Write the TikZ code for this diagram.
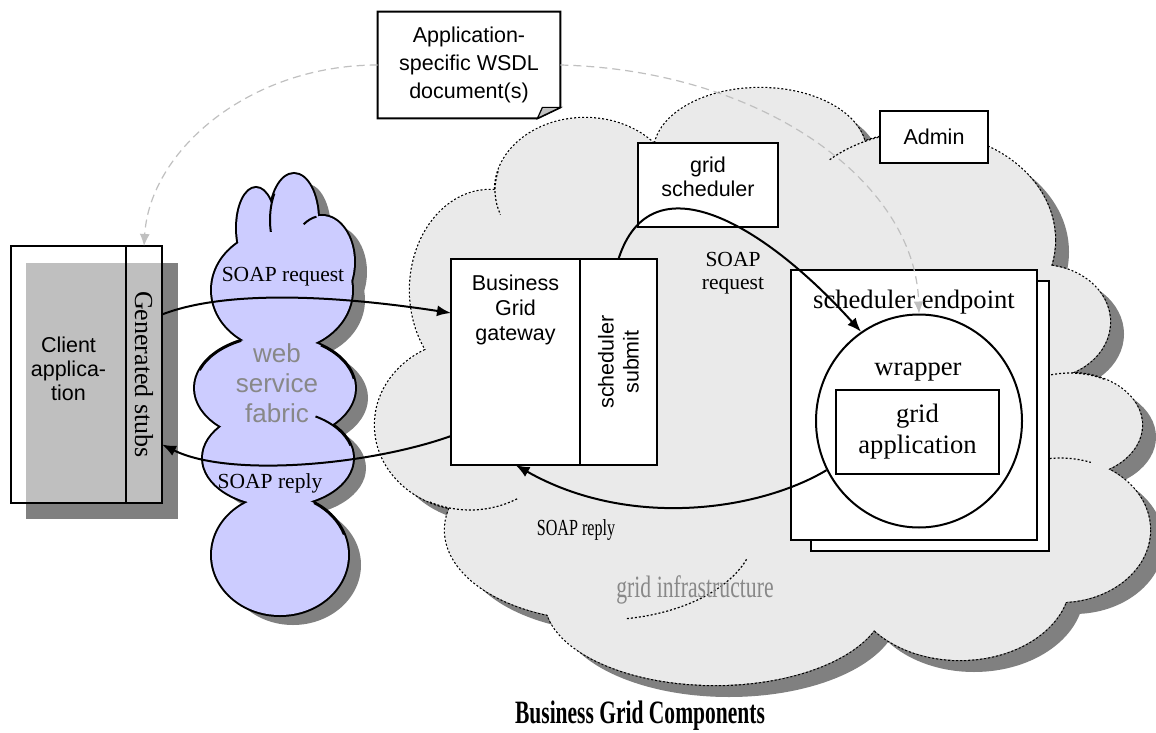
\documentclass[tikz,border=0pt]{standalone}
\usepackage{fontspec}
\setmainfont{Liberation Serif}
\setsansfont{Liberation Sans}
\newfontfamily\narrowserif[FakeStretch=0.7]{Liberation Serif}
\newfontfamily\titleserif[FakeStretch=0.66]{Liberation Serif}
\usetikzlibrary{shapes.geometric,positioning,arrows.meta}

\definecolor{fabricblue}{RGB}{204,204,255}
\definecolor{gridgrey}{RGB}{234,234,234}
\definecolor{shadowgrey}{RGB}{128,128,128}
\definecolor{refgrey}{RGB}{192,192,192}
\definecolor{textgrey}{RGB}{136,136,136}

\newcommand\gridlobes{490/290/80/100, 585/190/90/72, 760/152/106/64,
	920/240/135/108, 1040/322/70/57, 1070/425/72/52, 1060/530/90/72,
	960/580/110/80, 715/600/170/85, 600/530/155/90, 470/425/95/85,
	760/380/300/220}
\newcommand\fabriclobes{256/228/19/40, 294/220/24/46, 322/262/32/46,
	282/290/70/60, 275/388/80/52, 278/458/75/48, 280/555/68/60}

\begin{document}
\begin{tikzpicture}[x=0.5pt, y=-0.5pt,
		box/.style = {draw, line width=1pt, fill=white, inner sep=0pt, outer sep=0pt},
		sans/.style = {font=\sffamily\fontsize{10.75}{12.5}\selectfont, align=center, inner sep=0pt},
		serif/.style = {font=\fontsize{10.75}{11.5}\selectfont, align=center, inner sep=0pt},
		bigserif/.style = {font=\fontsize{13.3}{15.5}\selectfont, align=center, inner sep=0pt},
		msg/.style = {line width=1pt, -{Latex[length=7pt,width=5.5pt]}},
		docref/.style = {refgrey, line width=0.6pt, dash pattern=on 4pt off 2.5pt, -{Latex[length=6pt,width=5pt]}},
		gridedge/.style = {line width=0.6pt, dash pattern=on 1pt off 1pt}]
	\useasboundingbox (0,0) rectangle (1156,733);
	\fill[white] (0,0) rectangle (1156,733);

	\foreach \cx/\cy/\rx/\ry in \gridlobes
		\fill[shadowgrey] (\cx+14,\cy+12) ellipse [x radius=\rx, y radius=\ry];
	\foreach \cx/\cy/\rx/\ry in \gridlobes
		\draw[gridedge, line width=1.2pt] (\cx,\cy) ellipse [x radius=\rx, y radius=\ry];
	\foreach \cx/\cy/\rx/\ry in \gridlobes
		\fill[gridgrey] (\cx,\cy) ellipse [x radius=\rx, y radius=\ry];
	\foreach \cx/\cy/\rx/\ry/\a/\b in {585/190/90/72/195/160, 470/425/95/85/115/60,
			920/240/135/108/228/255, 1070/425/72/52/245/300, 1060/530/90/72/240/290,
			600/530/155/90/80/18}
		\draw[gridedge] ({\cx+\rx*cos(\a)},{\cy+\ry*sin(\a)}) arc [start angle=\a, end angle=\b, x radius=\rx, y radius=\ry];

	\foreach \cx/\cy/\rx/\ry in \fabriclobes
		\fill[shadowgrey] (\cx+13,\cy+10) ellipse [x radius=\rx, y radius=\ry];
	\foreach \cx/\cy/\rx/\ry in \fabriclobes
		\draw[line width=2pt] (\cx,\cy) ellipse [x radius=\rx, y radius=\ry];
	\foreach \cx/\cy/\rx/\ry in \fabriclobes
		\fill[fabricblue] (\cx,\cy) ellipse [x radius=\rx, y radius=\ry];
	\foreach \cx/\cy/\rx/\ry/\a/\b in {294/220/24/46/215/165, 322/262/32/46/235/260,
			275/388/80/52/200/245, 275/388/80/52/-10/-55, 278/458/75/48/-15/-60, 280/555/68/60/-20/-60}
		\draw[line width=1pt] ({\cx+\rx*cos(\a)},{\cy+\ry*sin(\a)}) arc [start angle=\a, end angle=\b, x radius=\rx, y radius=\ry];
	\node[sans, font=\sffamily\fontsize{13}{15}\selectfont, text=textgrey] (fabric) at (277,383) {web\\service\\fabric};

	\node[sans, font=\sffamily\fontsize{10.75}{14}\selectfont, minimum width=91pt, minimum height=53pt] (wsdl) at (469,65) {Application-\\specific WSDL\\document(s)};
	\draw[line width=1pt] (wsdl.north west) -- (wsdl.north east) -- ([yshift=5.5pt]wsdl.south east)
		-- ([xshift=-11.5pt]wsdl.south east) -- (wsdl.south west) -- cycle;
	\filldraw[fill=refgrey, line width=0.6pt] ([xshift=-11.5pt]wsdl.south east) -- ([xshift=-9pt,yshift=5.5pt]wsdl.south east)
		-- ([yshift=5.5pt]wsdl.south east) -- cycle;

	\fill[shadowgrey] (26,263) rectangle (178,519);
	\node[box, fill opacity=0.5, text opacity=1, minimum width=57.5pt, minimum height=128.5pt] (app) at (68.5,374.5) {};
	\node[box, fill opacity=0.5, text opacity=1, minimum width=18pt, minimum height=128.5pt, right=0pt of app] (stubs) {};
	\node[sans, font=\sffamily\fontsize{10.75}{12}\selectfont] (apptxt) at ([yshift=3pt]app.center) {Client\\applica-\\tion};
	\node[bigserif, font=\fontsize{13}{15}\selectfont, rotate=-90] (stubstxt) at (stubs.center) {Generated stubs};

	\node[box, minimum width=64.5pt, minimum height=103pt] (gw) at (515.5,362) {};
	\node[box, minimum width=38.5pt, minimum height=103pt, right=0pt of gw] (submit) {};
	\node[sans, below=8pt of gw.north] (gwtxt) {Business\\Grid\\gateway};
	\node[sans, rotate=90] (submittxt) at (submit.center) {scheduler\\submit};

	\node[box, minimum width=70pt, minimum height=42pt] (sched) at (708,185) {};
	\node[sans, font=\sffamily\fontsize{10.75}{12}\selectfont] (schedtxt) at ([yshift=4pt]sched.center) {grid\\scheduler};
	\node[box, sans, minimum width=54pt, minimum height=26pt] (admin) at (934,137) {Admin};

	\node[box, minimum width=119pt, minimum height=135pt] (epback) at (930,416) {};
	\node[box, minimum width=123pt, minimum height=135pt] (ep) at (914,405) {};
	\node[bigserif, below=10pt of ep.north] (eptxt) {scheduler endpoint};
	\node[draw, ellipse, line width=1pt, inner sep=0pt, minimum width=103pt, minimum height=106.5pt] (wrap) at (919,421) {};
	\node[bigserif] (wraptxt) at (918,372) {wrapper};
	\node[box, bigserif, minimum width=81.5pt, minimum height=42pt] (gridapp) at (917.5,432) {grid\\application};

	\draw[docref] (wsdl.west) .. controls (250,65) and (150,150) .. (stubs.north);
	\draw[docref] (wsdl.east) .. controls (760,70) and (915,180) .. (wrap.north);

	\draw[msg] ([yshift=30pt]stubs.east) .. controls (220,292) and (320,293) .. ([yshift=24.5pt]gw.west);
	\draw[msg] ([yshift=-37pt]gw.west) .. controls (370,465) and (230,478) .. ([yshift=-35pt]stubs.east);
	\draw[msg] (submit.north) .. controls (650,160) and (760,220) .. (wrap.123);
	\draw[msg] (wrap.208) .. controls (760,510) and (630,530) .. (gw.south);

	\node[serif] (req) at (283,277) {SOAP request};
	\node[serif] (reply) at (270,483) {SOAP reply};
	\node[serif] (schedreq) at (733,273) {SOAP\\request};
	\node[serif, font=\narrowserif\fontsize{11.5}{12}\selectfont] (epreply) at (576,530) {SOAP reply};
	\node[font=\narrowserif\fontsize{15.5}{17}\selectfont, text=textgrey, inner sep=0pt] (gridtxt) at (695,590) {grid infrastructure};
	\node[font=\titleserif\bfseries\fontsize{16.3}{18}\selectfont, inner sep=0pt] (caption) at (640,716) {Business Grid Components};
\end{tikzpicture}
\end{document}
